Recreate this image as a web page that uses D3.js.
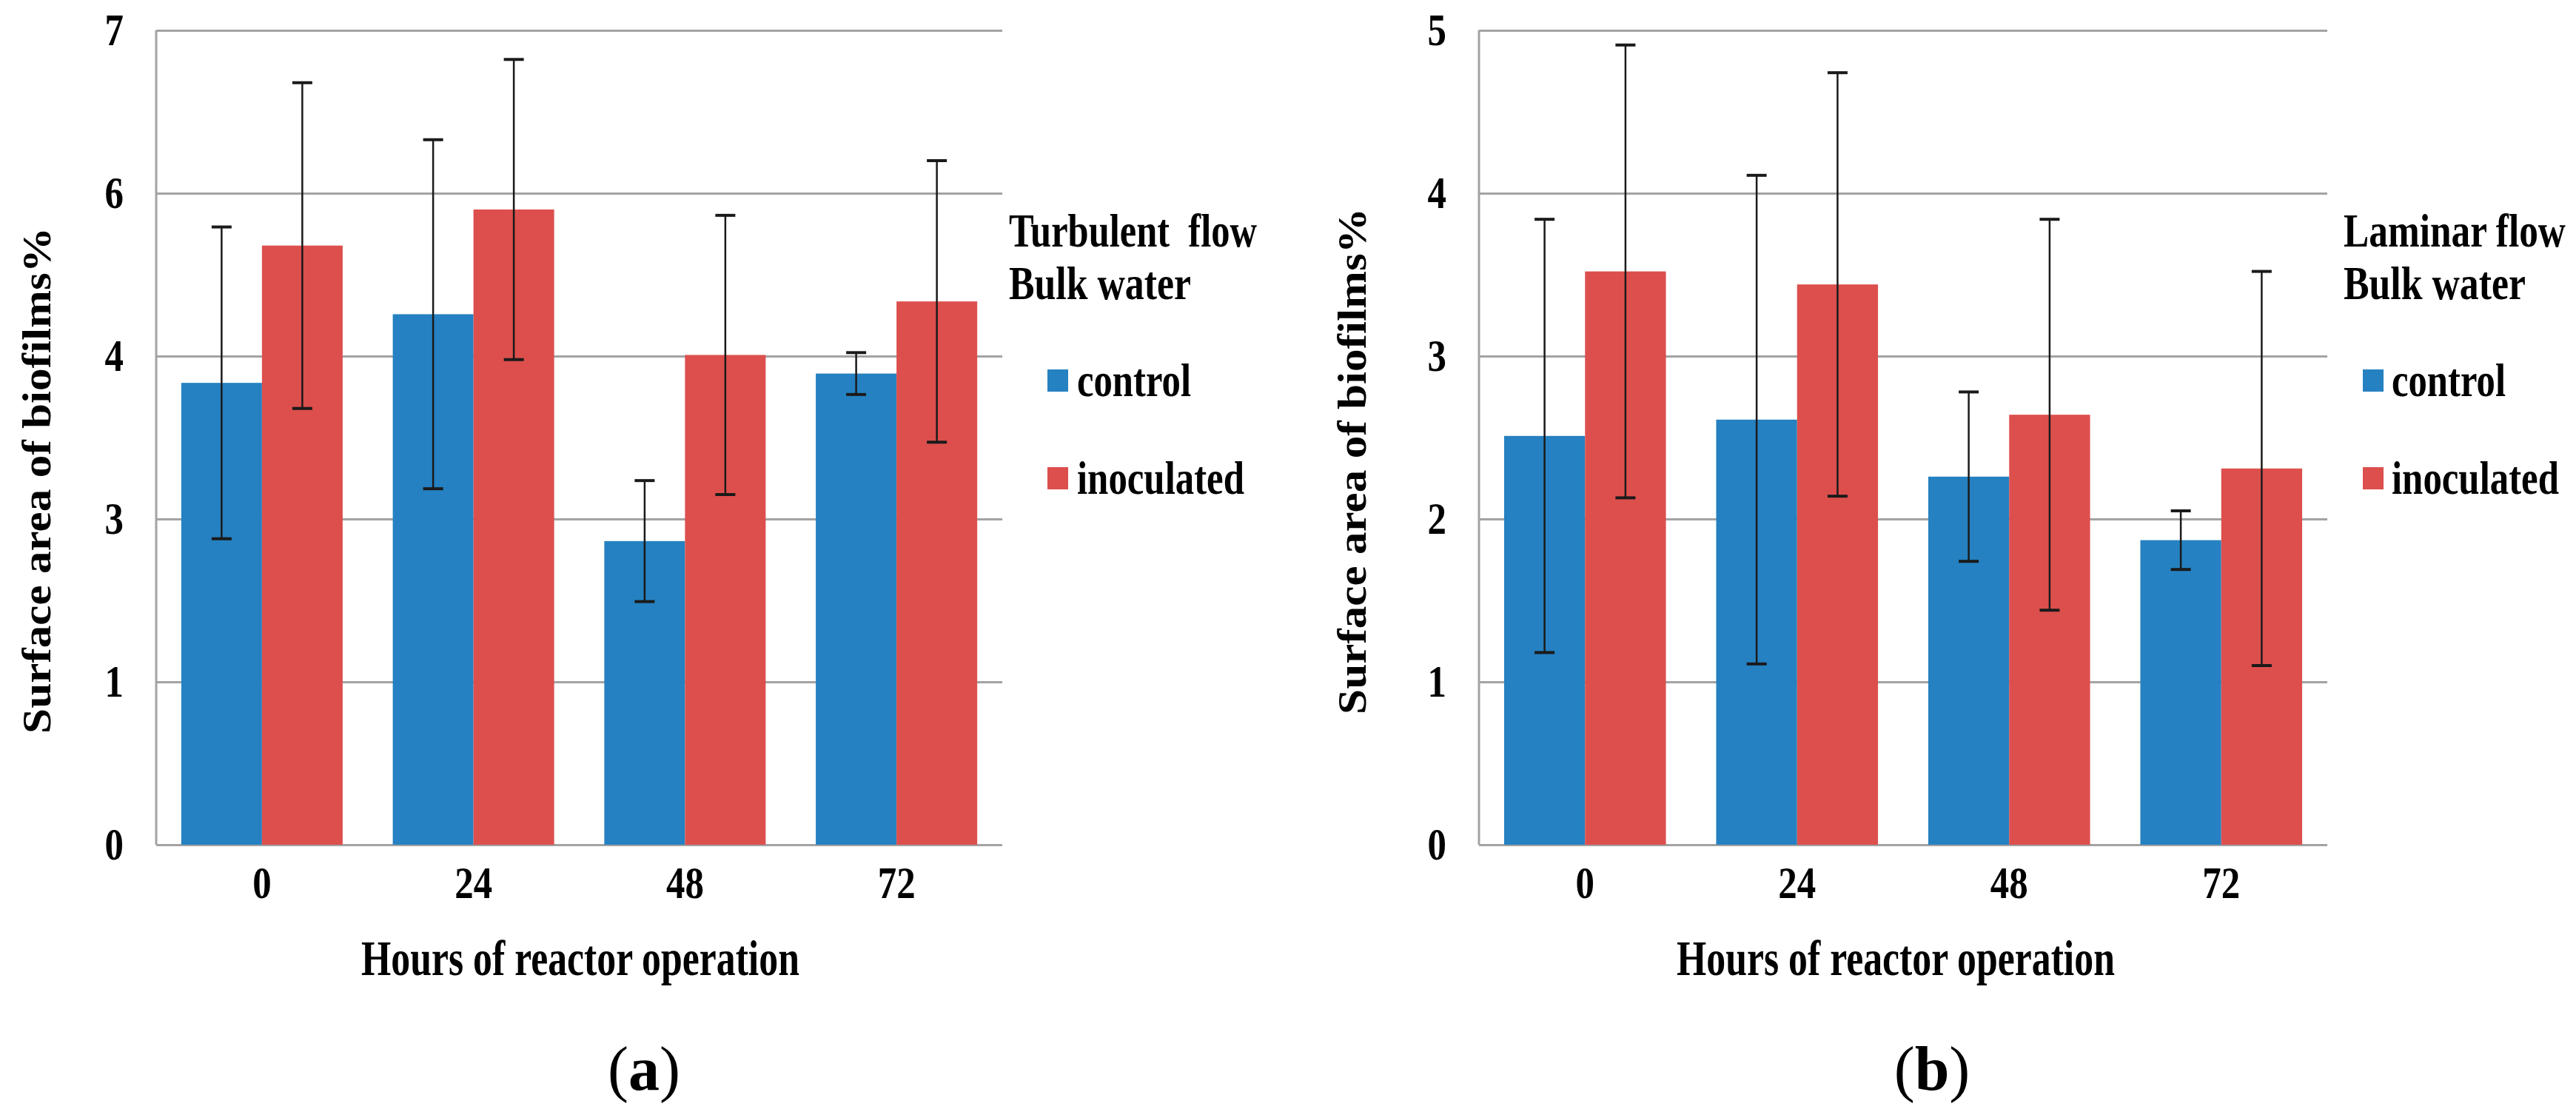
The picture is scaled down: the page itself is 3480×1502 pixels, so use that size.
<!DOCTYPE html>
<html>
<head>
<meta charset="utf-8">
<script src="https://cdn.jsdelivr.net/npm/d3@7"></script>
<style>
  html, body { margin: 0; padding: 0; background: #fff; }
  svg { display: block; }
  text { font-family: 'Liberation Serif', 'Times New Roman', serif; font-weight: bold; fill: #000; }
</style>
</head>
<body>
<svg id="chart" width="3480" height="1502"></svg>
<script>
// categories and series
const hours = ['0', '24', '48', '72'];
const seriesNames = ['control', 'inoculated'];
const seriesColors = ['#2581c1', '#dc4f4d'];

// (a) turbulent flow, bulk water
const turbControl = [3.97, 4.56, 2.61, 4.05];
const turbControlErr = [1.34, 1.50, 0.52, 0.18];
const turbInoc = [5.15, 5.46, 4.21, 4.67];
const turbInocErr = [1.40, 1.29, 1.20, 1.21];
const turbTicks = [0, 1.4, 2.8, 4.2, 5.6, 7];

// (b) laminar flow, bulk water
const lamControl = [2.51, 2.61, 2.26, 1.87];
const lamControlErr = [1.33, 1.50, 0.52, 0.18];
const lamInoc = [3.52, 3.44, 2.64, 2.31];
const lamInocErr = [1.39, 1.30, 1.20, 1.21];
const lamTicks = [0, 1, 2, 3, 4, 5];

const yTitle = 'Surface area of biofilms%';
const xTitle = 'Hours of reactor operation';

const panels = [
  {
    caption: 'a', legendTitle: ['Turbulent  flow', 'Bulk water'],
    values: [turbControl, turbInoc], errs: [turbControlErr, turbInocErr],
    ticks: turbTicks, yMax: 7,
    left: 211, right: 1354, legendX: 1363, swatchX: 1415, itemX: 1455,
    titleLens: [335, 246], yTitleX: 68, yTitleY: 649, xTitleX: 784, captionX: 870
  },
  {
    caption: 'b', legendTitle: ['Laminar flow', 'Bulk water'],
    values: [lamControl, lamInoc], errs: [lamControlErr, lamInocErr],
    ticks: lamTicks, yMax: 5,
    left: 1998, right: 3144, legendX: 3166, swatchX: 3192, itemX: 3231,
    titleLens: [300, 246], yTitleX: 1845, yTitleY: 623, xTitleX: 2561, captionX: 2610
  }
];

const plotTop = 41, plotBottom = 1141;
const svg = d3.select('#chart');

// squeeze text horizontally, the source font is a narrow bold serif
function condense(sel, factor) {
  sel.each(function() {
    let len = this.getComputedTextLength();
    d3.select(this).attr('textLength', len * factor).attr('lengthAdjust', 'spacingAndGlyphs');
  });
}

// scale a text so it is exactly `width` wide, placed at (x, y)
function fitText(sel, width, x, y, rot) {
  sel.each(function(d, i) {
    let w = typeof width === 'function' ? width(d, i) : width;
    let yy = typeof y === 'function' ? y(d, i) : y;
    let f = w / this.getComputedTextLength();
    d3.select(this)
      .attr('transform', `translate(${x},${yy})${rot ? ' rotate(' + rot + ')' : ''} scale(${f},1)`);
  });
}

panels.forEach(p => {
  let g = svg.append('g');

  let x = d3.scaleBand().domain(hours).range([p.left, p.right])
    .paddingInner(0.237).paddingOuter(0.1185);
  let xs = d3.scaleBand().domain(seriesNames).range([0, x.bandwidth()]);
  let y = d3.scaleLinear().domain([0, p.yMax]).range([plotBottom, plotTop]);

  // gridlines + y tick labels
  let yAxis = g.append('g')
    .attr('transform', `translate(${p.left},0)`)
    .call(d3.axisLeft(y).tickValues(p.ticks).tickFormat(d3.format('.0f'))
      .tickSizeInner(-(p.right - p.left)).tickSizeOuter(0).tickPadding(44));
  yAxis.select('.domain').remove();
  yAxis.selectAll('.tick line').attr('stroke', '#a3a3a3').attr('stroke-width', 3);
  yAxis.selectAll('.tick text')
    .attr('font-size', 62)
    .attr('font-family', null)
    .call(condense, 0.82);

  // y axis line
  g.append('line')
    .attr('x1', p.left).attr('x2', p.left)
    .attr('y1', plotTop).attr('y2', plotBottom)
    .attr('stroke', '#a3a3a3').attr('stroke-width', 3);

  // bars
  let rows = hours.map((h, i) => seriesNames.map((s, j) => ({
    hour: h, series: s, color: seriesColors[j],
    value: p.values[j][i], err: p.errs[j][i]
  })));

  let groups = g.selectAll('g.grp')
    .data(rows)
    .enter()
    .append('g')
    .attr('class', 'grp')
    .attr('transform', d => `translate(${x(d[0].hour)},0)`);

  groups.selectAll('rect')
    .data(d => d)
    .enter()
    .append('rect')
    .attr('x', d => xs(d.series))
    .attr('width', xs.bandwidth())
    .attr('y', d => y(d.value))
    .attr('height', d => plotBottom - y(d.value))
    .style('fill', d => d.color);

  // error bars
  let capW = 27;
  let eb = groups.selectAll('g.err')
    .data(d => d)
    .enter()
    .append('g')
    .attr('class', 'err')
    .attr('transform', d => `translate(${xs(d.series) + xs.bandwidth() / 2},0)`);
  eb.append('line')
    .attr('y1', d => y(d.value + d.err))
    .attr('y2', d => y(d.value - d.err))
    .attr('stroke', '#1a1a1a').attr('stroke-width', 2.5);
  eb.selectAll('line.cap')
    .data(d => [d.value + d.err, d.value - d.err])
    .enter()
    .append('line')
    .attr('class', 'cap')
    .attr('x1', -capW / 2).attr('x2', capW / 2)
    .attr('y1', d => y(d)).attr('y2', d => y(d))
    .attr('stroke', '#1a1a1a').attr('stroke-width', 4);

  // x tick labels
  let xAxis = g.append('g')
    .attr('transform', `translate(0,${plotBottom})`)
    .call(d3.axisBottom(x).tickSize(0).tickPadding(28));
  xAxis.select('.domain').remove();
  xAxis.selectAll('.tick text')
    .attr('font-size', 62)
    .attr('font-family', null)
    .call(condense, 0.82);

  // axis titles
  g.append('text')
    .attr('text-anchor', 'middle')
    .attr('font-size', 54)
    .text(yTitle)
    .call(fitText, 684, p.yTitleX, p.yTitleY, -90);

  g.append('text')
    .attr('text-anchor', 'middle')
    .attr('font-size', 68)
    .text(xTitle)
    .call(fitText, 592, p.xTitleX, 1317);

  // legend
  g.selectAll('text.ltitle')
    .data(p.legendTitle)
    .enter()
    .append('text')
    .attr('class', 'ltitle')
    .attr('font-size', 64)
    .style('white-space', 'pre')
    .text(d => d)
    .call(fitText, (d, i) => p.titleLens[i], p.legendX, (d, i) => 333 + i * 71);

  let itemLens = [154, 226];
  let item = g.selectAll('g.litem')
    .data(seriesNames)
    .enter()
    .append('g')
    .attr('class', 'litem')
    .attr('transform', (d, i) => `translate(0,${i * 132})`);
  item.append('rect')
    .attr('x', p.swatchX).attr('y', 499)
    .attr('width', 28).attr('height', 30)
    .style('fill', (d, i) => seriesColors[i]);
  item.append('text')
    .attr('font-size', 64)
    .text(d => d)
    .call(fitText, (d, i) => itemLens[i], p.itemX, 535);

  // panel caption
  let cap = g.append('text')
    .attr('x', p.captionX).attr('y', 1472)
    .attr('text-anchor', 'middle')
    .attr('font-size', 84);
  cap.append('tspan').style('font-weight', 'normal').text('(');
  cap.append('tspan').text(p.caption);
  cap.append('tspan').style('font-weight', 'normal').text(')');
});
</script>
</body>
</html>
